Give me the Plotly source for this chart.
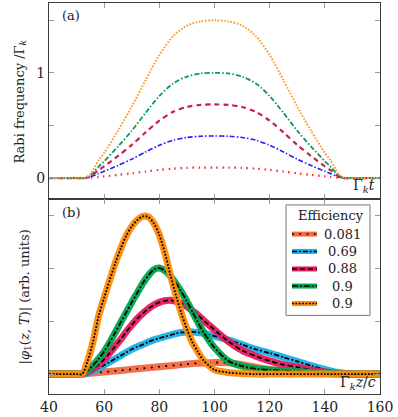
import plotly.graph_objects as go

# ---------------- data: panel (a) ----------------
t_top = [40, 50, 53, 55, 58, 60, 65, 70, 75, 80, 85, 90, 95, 100,
         105, 110, 115, 120, 125, 130, 135, 140, 142, 145, 147, 150, 160]
rabi_red = [0, 0, 0, 0.003, 0.011, 0.016, 0.03, 0.045, 0.062, 0.078, 0.09, 0.097, 0.1, 0.1,
            0.1, 0.097, 0.09, 0.078, 0.062, 0.045, 0.03, 0.016, 0.011, 0.003, 0, 0, 0]
rabi_blue = [0, 0, 0, 0.01, 0.044, 0.064, 0.12, 0.18, 0.248, 0.312, 0.36, 0.386, 0.398, 0.4,
             0.398, 0.386, 0.36, 0.312, 0.248, 0.18, 0.12, 0.064, 0.044, 0.01, 0, 0, 0]
rabi_crimson = [0, 0, 0, 0.018, 0.077, 0.112, 0.21, 0.315, 0.434, 0.546, 0.63, 0.676, 0.697, 0.7,
                0.697, 0.676, 0.63, 0.546, 0.434, 0.315, 0.21, 0.112, 0.077, 0.018, 0, 0, 0]
rabi_green = [0, 0, 0, 0.025, 0.11, 0.16, 0.30, 0.45, 0.62, 0.78, 0.90, 0.965, 0.995, 1.0,
              0.995, 0.965, 0.90, 0.78, 0.62, 0.45, 0.30, 0.16, 0.11, 0.025, 0, 0, 0]
rabi_orange = [0, 0, 0, 0.04, 0.17, 0.24, 0.45, 0.68, 0.93, 1.17, 1.35, 1.45, 1.49, 1.5,
               1.49, 1.45, 1.35, 1.17, 0.93, 0.68, 0.45, 0.24, 0.17, 0.04, 0, 0, 0]
top_yticks = [0, 0.5, 1, 1.5]
top_yticklabels = ["0", "", "1", ""]

# ---------------- data: panel (b) ----------------
z_bot = [40, 50, 52, 54, 56, 58, 60, 62, 64, 66, 68, 70, 72, 74, 76, 78, 80, 82, 84, 86,
         88, 90, 92, 94, 96, 98, 100, 105, 110, 115, 120, 125, 130, 135, 140, 145, 150, 160]
phi_081 = [0, 0, 0, 0.01, 0.02, 0.03, 0.04, 0.05, 0.06, 0.07, 0.08, 0.09, 0.1, 0.11, 0.12, 0.13,
           0.14, 0.15, 0.16, 0.17, 0.18, 0.19, 0.2, 0.205, 0.21, 0.215, 0.22, 0.215, 0.18, 0.13,
           0.09, 0.06, 0.04, 0.02, 0.01, 0, 0, 0]
phi_069 = [0, 0, 0, 0.02, 0.06, 0.11, 0.17, 0.23, 0.29, 0.35, 0.41, 0.47, 0.52, 0.56, 0.61, 0.65,
           0.68, 0.71, 0.74, 0.77, 0.79, 0.8, 0.8, 0.79, 0.77, 0.75, 0.72, 0.65, 0.56, 0.47,
           0.4, 0.32, 0.24, 0.16, 0.09, 0.03, 0, 0]
phi_088 = [0, 0, 0, 0.04, 0.1, 0.18, 0.28, 0.4, 0.53, 0.66, 0.8, 0.93, 1.05, 1.15, 1.24, 1.31,
           1.36, 1.39, 1.40, 1.38, 1.34, 1.28, 1.2, 1.12, 1.02, 0.93, 0.84, 0.62, 0.45, 0.34,
           0.25, 0.18, 0.13, 0.08, 0.04, 0.01, 0, 0]
phi_09g = [0, 0, 0, 0.07, 0.17, 0.29, 0.43, 0.6, 0.79, 0.98, 1.17, 1.36, 1.54, 1.72, 1.87, 1.98,
           2.01, 1.96, 1.86, 1.72, 1.56, 1.38, 1.18, 0.98, 0.8, 0.64, 0.5, 0.25, 0.15, 0.1,
           0.08, 0.065, 0.05, 0.035, 0.02, 0.005, 0, 0]
phi_09o = [0, 0, 0, 0.25, 0.62, 1.1, 1.45, 1.78, 2.1, 2.38, 2.62, 2.8, 2.92, 2.99, 2.98, 2.86,
           2.64, 2.3, 1.88, 1.5, 1.15, 0.85, 0.6, 0.42, 0.26, 0.16, 0.08, 0.03, 0.01, 0,
           0, 0, 0, 0, 0, 0, 0, 0]
efficiency_labels = ["0.081", "0.69", "0.88", "0.9", "0.9"]
x_ticks = [40, 60, 80, 100, 120, 140, 160]
bot_yticks = [0, 1, 2, 3]

# ---------------- styling ----------------
FONT = "DejaVu Serif"
W, H = 398, 417
L, R, T, B = 49, 18, 2, 22
PW, PH = W - L - R, H - T - B


def px2x(px):
    return (px - L) / PW


def py2y(py):
    return (H - B - py) / PH


split = py2y(199)

top_styles = [
    (rabi_red, "#ff2a2a", "1.5px,4.5px", 2.2),
    (rabi_blue, "#1f1fff", "5px,2px,1.5px,2px", 1.6),
    (rabi_crimson, "#c81e55", "5px,4px", 2.2),
    (rabi_green, "#0c9a5a", "5px,2px,1.5px,2px", 1.8),
    (rabi_orange, "#ff9a2e", "1.6px,1.6px", 2.0),
]
bot_styles = [
    (phi_081, "#f36a40", "1.8px,5.5px"),
    (phi_069, "#1cb0ea", "5px,2px,1.8px,2px"),
    (phi_088, "#e8195e", "5px,3px"),
    (phi_09g, "#00a651", "6px,2px,1.8px,2px"),
    (phi_09o, "#ff8c0a", "1.8px,1.6px"),
]

fig = go.Figure()
for ys, col, dash, wd in top_styles:
    fig.add_trace(go.Scatter(x=t_top, y=ys, mode="lines", xaxis="x", yaxis="y",
                             line=dict(color=col, width=wd, dash=dash, shape="spline", smoothing=0.8),
                             showlegend=False, hoverinfo="skip"))
for ys, col, dash in bot_styles:
    fig.add_trace(go.Scatter(x=z_bot, y=ys, mode="lines", xaxis="x2", yaxis="y2",
                             line=dict(color=col, width=7, shape="spline", smoothing=0.8),
                             opacity=0.95, showlegend=False, hoverinfo="skip"))
    fig.add_trace(go.Scatter(x=z_bot, y=ys, mode="lines", xaxis="x2", yaxis="y2",
                             line=dict(color="black", width=1.8, dash=dash, shape="spline", smoothing=0.8),
                             showlegend=False, hoverinfo="skip"))

axis_common = dict(showline=True, linecolor="#3a3a3a", linewidth=1, mirror="allticks",
                   ticks="inside", ticklen=5, tickcolor="#9a9a9a", tickwidth=1,
                   showgrid=False, zeroline=False,
                   tickfont=dict(family=FONT, size=14, color="#222"))

fig.update_layout(
    width=W, height=H,
    margin=dict(l=L, r=R, t=T, b=B),
    paper_bgcolor="white", plot_bgcolor="white",
    font=dict(family=FONT, color="#222"),
    xaxis=dict(axis_common, domain=[0, 1], range=[40, 160], anchor="y",
               tickvals=x_ticks, showticklabels=False),
    yaxis=dict(axis_common, domain=[split, 1], range=[-0.199, 1.665], anchor="x",
               tickvals=top_yticks, ticktext=top_yticklabels),
    xaxis2=dict(axis_common, domain=[0, 1], range=[40, 160], anchor="y2",
                tickvals=x_ticks),
    yaxis2=dict(axis_common, domain=[0, split], range=[-0.377, 3.32], anchor="x2",
                tickvals=bot_yticks, showticklabels=False),
    showlegend=False,
)

ann = []


def note(px, py, text, size=13, xanchor="center", yanchor="middle", **kw):
    d = dict(x=px2x(px), y=py2y(py), text=text, showarrow=False, xref="paper", yref="paper",
             xanchor=xanchor, yanchor=yanchor,
             font=dict(family=FONT, size=size, color="#222"))
    d.update(kw)
    ann.append(d)


note(71, 15, "(a)")
note(71, 213, "(b)")
note(377, 197, "Γ<sub><i>k</i></sub><i>t</i>", size=14, xanchor="right", yanchor="bottom")
note(378, 395, "Γ<sub><i>k</i></sub><i>z</i>/<i>c</i>", size=14, xanchor="right", yanchor="bottom")
note(20, 101, "Rabi frequency /Γ<sub><i>k</i></sub>", textangle=-90)
note(25, 298, "|<i>φ</i><sub>1</sub>(<i>z, T</i>)| (arb. units)", textangle=-90)

# legend (drawn manually to show the two-layer line samples)
shapes = [dict(type="rect", xref="paper", yref="paper",
               x0=px2x(286), x1=px2x(370), y0=py2y(316), y1=py2y(205),
               line=dict(color="#777", width=1), fillcolor="white", layer="above")]
note(331, 216, "Efficiency")
leg_y = [234.3, 251.7, 269.3, 286.5, 304]
for (ys, col, dash), lab, ly in zip(bot_styles, efficiency_labels, leg_y):
    shapes.append(dict(type="line", xref="paper", yref="paper", x0=px2x(292), x1=px2x(317),
                       y0=py2y(ly), y1=py2y(ly), line=dict(color=col, width=5), layer="above"))
    shapes.append(dict(type="line", xref="paper", yref="paper", x0=px2x(292), x1=px2x(317),
                       y0=py2y(ly), y1=py2y(ly), line=dict(color="black", width=1.5, dash=dash),
                       layer="above"))
    note(342, ly, lab)

fig.update_layout(annotations=ann, shapes=shapes)

fig.write_html("out.html", config={"displayModeBar": False},
               post_script="document.body.style.margin='0';")
